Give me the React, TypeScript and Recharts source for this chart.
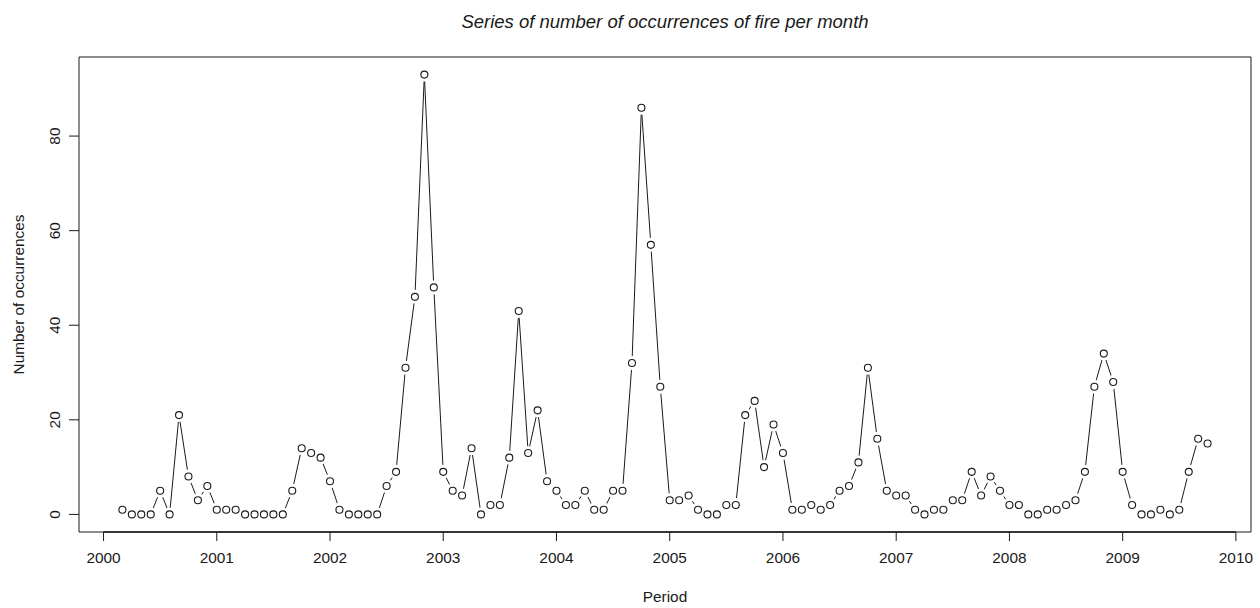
import { LineChart, Line, XAxis, YAxis, ReferenceArea, ReferenceLine } from "recharts";

// monthly fire counts, series starts March 2000 and ends October 2009
const fires2000 = [1, 0, 0, 0, 5, 0, 21, 8, 3, 6];
const fires2001 = [1, 1, 1, 0, 0, 0, 0, 0, 5, 14, 13, 12];
const fires2002 = [7, 1, 0, 0, 0, 0, 6, 9, 31, 46, 93, 48];
const fires2003 = [9, 5, 4, 14, 0, 2, 2, 12, 43, 13, 22, 7];
const fires2004 = [5, 2, 2, 5, 1, 1, 5, 5, 32, 86, 57, 27];
const fires2005 = [3, 3, 4, 1, 0, 0, 2, 2, 21, 24, 10, 19];
const fires2006 = [13, 1, 1, 2, 1, 2, 5, 6, 11, 31, 16, 5];
const fires2007 = [4, 4, 1, 0, 1, 1, 3, 3, 9, 4, 8, 5];
const fires2008 = [2, 2, 0, 0, 1, 1, 2, 3, 9, 27, 34, 28];
const fires2009 = [9, 2, 0, 0, 1, 0, 1, 9, 16, 15];

const startYear = 2000;
const startMonth = 3;
const yearTicks = [2000, 2001, 2002, 2003, 2004, 2005, 2006, 2007, 2008, 2009, 2010];
const countTicks = [0, 20, 40, 60, 80];

const byYear = [fires2000, fires2001, fires2002, fires2003, fires2004, fires2005, fires2006, fires2007, fires2008, fires2009];

const data = byYear.flatMap((vals, yi) =>
  vals.map((count, i) => {
    const monthIdx = (yi === 0 ? startMonth - 1 : 0) + i;
    return { time: startYear + yi + monthIdx / 12, count };
  })
);

// R style axis range: data range padded by 4% on each side
const pad = (lo: number, hi: number): [number, number] => [lo - 0.04 * (hi - lo), hi + 0.04 * (hi - lo)];
const tVals = data.map((d) => d.time);
const cVals = data.map((d) => d.count);
const xDomain = pad(Math.min(...tVals), Math.max(...tVals));
const yDomain = pad(Math.min(...cVals), Math.max(...cVals));

const FONT = '"Liberation Sans", Arial, Helvetica, sans-serif';
const INK = "#1a1a1a";

function YTick(props: any) {
  const { x, y, payload } = props;
  const bx = x + 1;
  return (
    <text
      x={bx}
      y={y}
      transform={`rotate(-90, ${bx}, ${y})`}
      textAnchor="middle"
      fontSize={15.4}
      fontFamily={FONT}
      fill={INK}
    >
      {payload.value}
    </text>
  );
}

function XTick(props: any) {
  const { x, y, payload } = props;
  return (
    <text x={x} y={y + 16} textAnchor="middle" fontSize={15.4} fontFamily={FONT} fill={INK}>
      {payload.value}
    </text>
  );
}

const halo = (p: any) => <circle key={`h${p.index}`} cx={p.cx} cy={p.cy} r={7} fill="#fff" stroke="none" />;
const ring = (p: any) => (
  <circle key={`d${p.index}`} cx={p.cx} cy={p.cy} r={3.5} fill="#fff" stroke={INK} strokeWidth={1.1} />
);

export default function App() {
  return (
    <div style={{ position: "absolute", left: 0, top: 0, width: 1260, height: 608, background: "#fff" }}>
      <LineChart width={1260} height={608} data={data} margin={{ top: 57, right: 9, left: 0, bottom: 0 }}>
        <XAxis
          dataKey="time"
          type="number"
          domain={xDomain}
          ticks={yearTicks}
          allowDataOverflow
          height={76}
          axisLine={false}
          tickSize={9}
          tickLine={{ stroke: INK }}
          tick={<XTick />}
          tickMargin={6}
        />
        <YAxis
          type="number"
          domain={yDomain}
          ticks={countTicks}
          allowDataOverflow
          width={79}
          axisLine={false}
          tickSize={10}
          tickLine={{ stroke: INK }}
          tick={<YTick />}
          tickMargin={10}
        />
        <ReferenceArea
          x1={xDomain[0]}
          x2={xDomain[1]}
          y1={yDomain[0]}
          y2={yDomain[1]}
          fill="none"
          stroke={INK}
          strokeWidth={1}
          ifOverflow="visible"
        />
        <ReferenceLine
          segment={[
            { x: yearTicks[0], y: yDomain[0] },
            { x: yearTicks[yearTicks.length - 1], y: yDomain[0] },
          ]}
          stroke={INK}
          strokeWidth={1.6}
          ifOverflow="visible"
        />
        <Line dataKey="count" type="linear" stroke={INK} strokeWidth={1} dot={false} activeDot={false} isAnimationActive={false} />
        <Line dataKey="count" type="linear" stroke="none" dot={halo} activeDot={false} isAnimationActive={false} />
        <Line dataKey="count" type="linear" stroke="none" dot={ring} activeDot={false} isAnimationActive={false} />
      </LineChart>
      <svg width={1260} height={608} style={{ position: "absolute", left: 0, top: 0, pointerEvents: "none" }}>
        <text x={665} y={28} textAnchor="middle" fontSize={18.5} fontStyle="italic" fontFamily={FONT} fill={INK}>
          Series of number of occurrences of fire per month
        </text>
        <text x={665} y={602} textAnchor="middle" fontSize={15.4} fontFamily={FONT} fill={INK}>
          Period
        </text>
        <text
          x={24}
          y={294.5}
          transform="rotate(-90, 24, 294.5)"
          textAnchor="middle"
          fontSize={15.4}
          fontFamily={FONT}
          fill={INK}
        >
          Number of occurrences
        </text>
      </svg>
    </div>
  );
}
